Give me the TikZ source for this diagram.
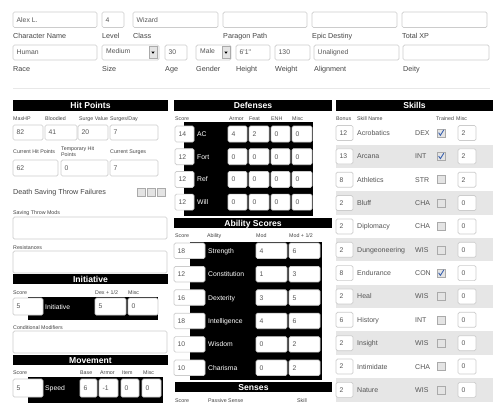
\documentclass[tikz,border=0pt]{standalone}
\usepackage{fontspec}
\setmainfont{Liberation Sans}
\definecolor{boxc}{HTML}{CCCCCC}
\definecolor{labc}{HTML}{444444}
\definecolor{valc}{HTML}{555555}
\definecolor{bandc}{HTML}{E6E6E6}
\definecolor{hrc}{HTML}{E8E8E8}
\definecolor{tickc}{HTML}{3A62B0}
\definecolor{chkfill}{HTML}{E4E4E4}
\definecolor{chkdraw}{HTML}{AAAAAA}
\newcommand\myfld[5]{%
  \draw[inp] (#1,#2) rectangle (#3,#4);
  \node[val] at ({#1+3.5},{(#2+#4)/2}) {#5};}
\newcommand\mychk[3]{%
  \draw[chk] (#1,{#2-4}) rectangle ({#1+8},{#2+4});
  \ifnum#3=1 \draw[tick] ({#1+1.6},{#2-0.3}) -- ({#1+3.4},{#2+2.3}) -- ({#1+6.8},{#2-3.2});\fi}
\newcommand\mysel[6]{%
  \draw[inp] (#1,#2) rectangle (#3,#4);
  \node[val] at ({#1+4},{#2+6}) {#6};
  \draw[btn] (#5,{#2+1.5}) rectangle ({#5+8},{#4-1.5});
  \fill ({#5+2.3},{(#2+#4)/2-1}) -- ({#5+5.7},{(#2+#4)/2-1}) -- ({#5+4},{(#2+#4)/2+1.3}) -- cycle;}
\begin{document}
\begin{tikzpicture}[x=1pt,y=-1pt,
  inp/.style={draw=boxc,fill=white,rounded corners=1.5pt,line width=0.7pt},
  chk/.style={draw=chkdraw,fill=chkfill,line width=0.5pt},
  btn/.style={draw=chkdraw,fill=chkfill,line width=0.5pt},
  tick/.style={draw=tickc,line width=0.9pt},
  lab/.style={anchor=west,inner sep=0pt,text=labc,font=\fontsize{7.2}{8}\selectfont,text height=5.2pt,text depth=0pt},
  tiny/.style={anchor=west,inner sep=0pt,text=labc,font=\fontsize{5.3}{5.8}\selectfont,text height=3.8pt,text depth=0pt},
  val/.style={anchor=west,inner sep=0pt,text=valc,font=\fontsize{6.8}{7.5}\selectfont,text height=4.9pt,text depth=0pt},
  skl/.style={anchor=west,inner sep=0pt,text=valc,font=\fontsize{7}{7.5}\selectfont,text height=5pt,text depth=0pt},
  wt/.style={anchor=west,inner sep=0pt,text=white,font=\fontsize{6.8}{7.5}\selectfont,text height=4.9pt,text depth=0pt},
  hdr/.style={inner sep=0pt,text=white,font=\bfseries\fontsize{8.6}{9}\selectfont,text height=6.2pt,text depth=0pt},
  bar/.style={fill=black}]
\useasboundingbox (0,0) rectangle (500,402);
\clip (0,0) rectangle (500,402);
\fill[white] (0,0) rectangle (500,402);

% ---- top form ----
\myfld{13}{12}{97}{27.5}{Alex L.}
\myfld{102}{12}{124}{27.5}{4}
\myfld{133}{12}{218}{27.5}{Wizard}
\myfld{223}{12}{307}{27.5}{}
\myfld{312}{12}{397}{27.5}{}
\myfld{402}{12}{487}{27.5}{}
\node[lab] (l1) at (13,36) {Character Name};
\node[lab] (l2) at (102,36) {Level};
\node[lab] (l3) at (133,36) {Class};
\node[lab] (l4) at (223,36) {Paragon Path};
\node[lab] (l5) at (312,36) {Epic Destiny};
\node[lab] (l6) at (402,36) {Total XP};

\myfld{13}{45}{97}{60}{Human}
\mysel{102}{45}{159}{60}{149}{Medium}
\myfld{165}{45}{187}{60}{30}
\mysel{196}{45}{231}{60}{222}{Male}
\myfld{236}{45}{270}{60}{6\textquotesingle1\textquotedbl}
\myfld{275}{45}{310}{60}{130}
\myfld{314}{45}{399}{60}{Unaligned}
\myfld{403}{45}{489}{60}{}
\node[lab] (m1) at (13,69) {Race};
\node[lab] (m2) at (102,69) {Size};
\node[lab] (m3) at (165,69) {Age};
\node[lab] (m4) at (196,69) {Gender};
\node[lab] (m5) at (236,69) {Height};
\node[lab] (m6) at (275,69) {Weight};
\node[lab] (m7) at (314,69) {Alignment};
\node[lab] (m8) at (403,69) {Deity};
\draw[hrc,line width=0.8pt] (13,88) -- (490,88);

% ---- Hit points column ----
\fill[bar] (13,100) rectangle (168,111);
\node[hdr] (hhp) at (90.5,105.5) {Hit Points};
\node[tiny] at (13,119) {MaxHP};
\node[tiny] at (45,119) {Bloodied};
\node[tiny] at (79,119) {Surge Value};
\node[tiny] at (110,119) {Surges/Day};
\myfld{13}{125}{43}{140}{82}
\myfld{45}{125}{77}{140}{41}
\myfld{78}{125}{108}{140}{20}
\myfld{110}{125}{158}{140}{7}
\node[tiny] at (13,152) {Current Hit Points};
\node[tiny] at (61,149) {Temporary Hit};
\node[tiny] at (61,155) {Points};
\node[tiny] at (110,152) {Current Surges};
\myfld{13}{160}{58}{176}{62}
\myfld{61}{160}{108}{176}{0}
\myfld{110}{160}{158}{176}{7}
\node[lab] (dst) at (13,192) {Death Saving Throw Failures};
\mychk{137}{192}{0}
\mychk{147}{192}{0}
\mychk{157}{192}{0}
\node[tiny] at (13,213) {Saving Throw Mods};
\myfld{13}{217}{167}{239}{}
\node[tiny] at (13,248) {Resistances};
\myfld{13}{251}{167}{273}{}

\fill[bar] (13,274) rectangle (168,284);
\node[hdr] (hin) at (90.5,279) {Initiative};
\node[tiny] at (13,293) {Score};
\node[tiny] at (95,293) {Dex + 1/2};
\node[tiny] at (128,293) {Misc};
\fill[bar] (28,297) rectangle (158,320);
\myfld{13}{298}{43}{315}{5}
\node[wt] at (45,307) {Initiative};
\myfld{95}{298}{126}{315}{5}
\myfld{128}{298}{158}{315}{0}
\node[tiny] at (13,328) {Conditional Modifiers};
\myfld{13}{331}{167}{353}{}

\fill[bar] (13,355) rectangle (168,365);
\node[hdr] (hmv) at (90.5,360) {Movement};
\node[tiny] at (13,373) {Score};
\node[tiny] at (80,373) {Base};
\node[tiny] at (100,373) {Armor};
\node[tiny] at (122,373) {Item};
\node[tiny] at (143,373) {Misc};
\fill[bar] (28,377) rectangle (163,405);
\myfld{13}{379}{43}{397}{5}
\node[wt] at (45,388) {Speed};
\myfld{80}{379}{97}{397}{6}
\myfld{99}{379}{118}{397}{-1}
\myfld{121}{379}{139}{397}{0}
\myfld{142}{379}{161}{397}{0}

% ---- Defenses ----
\fill[bar] (174,100) rectangle (332,111);
\node[hdr] (hdf) at (253,105.5) {Defenses};
\node[tiny] at (175,119) {Score};
\node[tiny] at (229,119) {Armor};
\node[tiny] at (249,119) {Feat};
\node[tiny] at (271,119) {ENH};
\node[tiny] at (292,119) {Misc};
\fill[bar] (184,122) rectangle (313,216);
\foreach \i/\s/\n/\a/\f/\e/\m in {0/14/AC/4/2/0/0,1/12/Fort/0/0/0/0,2/12/Ref/0/0/0/0,3/12/Will/0/0/0/0}{
  \pgfmathsetmacro\ty{126+22.7*\i}
  \myfld{175}{\ty}{194}{\ty+16}{\s}
  \node[wt] at (197,\ty+8) {\n};
  \myfld{228}{\ty}{247}{\ty+16}{\a}
  \myfld{249}{\ty}{269}{\ty+16}{\f}
  \myfld{271}{\ty}{290}{\ty+16}{\e}
  \myfld{292}{\ty}{312}{\ty+16}{\m}
}

% ---- Ability scores ----
\fill[bar] (174,218) rectangle (332,228);
\node[hdr] (hab) at (253,223) {Ability Scores};
\node[tiny] at (175,236) {Score};
\node[tiny] at (207,236) {Ability};
\node[tiny] at (256,236) {Mod};
\node[tiny] at (289,236) {Mod + 1/2};
\fill[bar] (190,242) rectangle (322,380);
\foreach \i/\s/\n/\m/\h in {0/18/Strength/4/6,1/12/Constitution/1/3,2/16/Dexterity/3/5,3/18/Intelligence/4/6,4/10/Wisdom/0/2,5/10/Charisma/0/2}{
  \pgfmathsetmacro\ty{243+23.4*\i}
  \myfld{174}{\ty}{205}{\ty+15.5}{\s}
  \node[wt] at (208,\ty+7.75) {\n};
  \myfld{256}{\ty}{287}{\ty+15.5}{\m}
  \myfld{289}{\ty}{320}{\ty+15.5}{\h}
}
\fill[bar] (175,382) rectangle (332,392);
\node[hdr] (hse) at (253.5,387) {Senses};
\node[tiny] at (175,400.5) {Score};
\node[tiny] at (208,400.5) {Passive Sense};
\node[tiny] at (297,400.5) {Skill};

% ---- Skills ----
\fill[bar] (336,100) rectangle (493,111);
\node[hdr] (hsk) at (414.5,105.5) {Skills};
\node[tiny] at (336,119) {Bonus};
\node[tiny] at (357,119) {Skill Name};
\node[tiny] at (436,119) {Trained};
\node[tiny] at (456,119) {Misc};
\foreach \i/\b/\n/\a/\c/\m in {0/12/Acrobatics/DEX/1/2,1/13/Arcana/INT/1/2,2/8/Athletics/STR/0/2,3/2/Bluff/CHA/0/0,4/2/Diplomacy/CHA/0/0,5/2/Dungeoneering/WIS/0/0,6/8/Endurance/CON/1/0,7/2/Heal/WIS/0/0,8/6/History/INT/0/0,9/2/Insight/WIS/0/0,10/2/Intimidate/CHA/0/0,11/2/Nature/WIS/0/0}{
  \pgfmathsetmacro\cy{133+23.35*\i}
  \ifodd\i\relax \fill[bandc] (336,\cy-11.7) rectangle (493,\cy+11.7);\fi
  \myfld{336}{\cy-7.5}{353}{\cy+7.5}{\b}
  \node[skl] at (357,\cy) {\n};
  \node[skl] at (415,\cy) {\a};
  \mychk{437}{\cy}{\c}
  \myfld{458}{\cy-7.5}{476}{\cy+7.5}{\m}
}
\end{tikzpicture}
\end{document}
